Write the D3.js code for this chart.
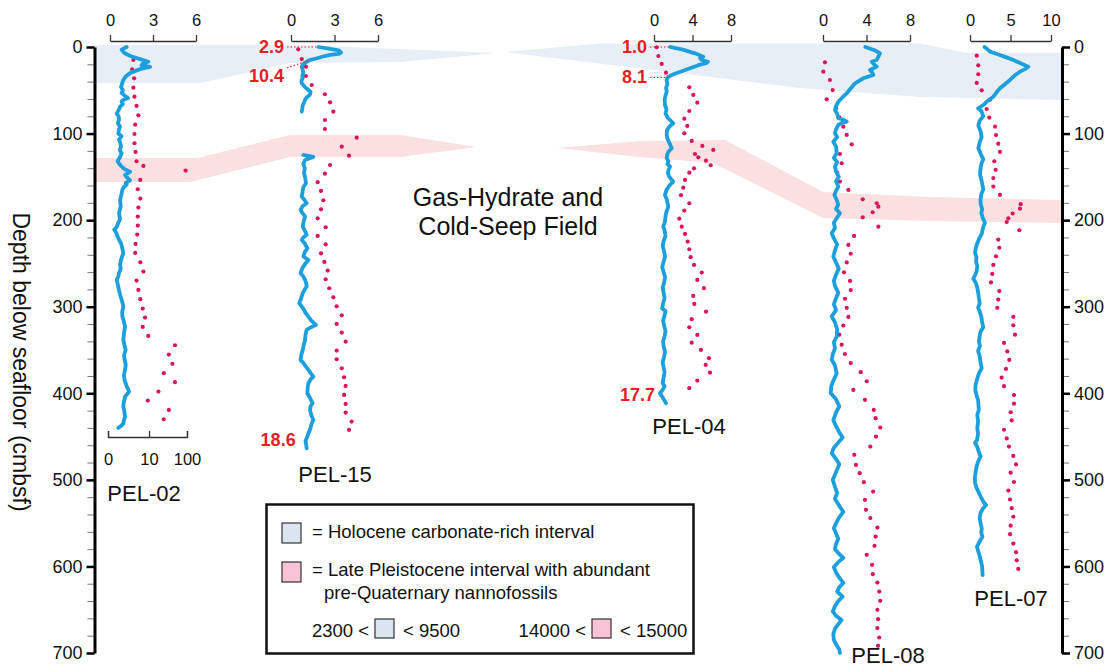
<!DOCTYPE html>
<html>
<head>
<meta charset="utf-8">
<script src="https://cdn.jsdelivr.net/npm/d3@7"></script>
<style>
  body { margin: 0; background: #fff; }
  svg { font-family: "Liberation Sans", Arial, Helvetica, sans-serif; }
</style>
</head>
<body>
<svg id="chart" width="1108" height="667"></svg>
<script>
// ---- data ----
var cores = ["PEL-02", "PEL-15", "PEL-04", "PEL-08", "PEL-07"];
var coreTicks = [[0, 3, 6], [0, 3, 6], [0, 4, 8], [0, 4, 8], [0, 5, 10]];
var pel02DotTicks = [0, 10, 100];
var depthTicks = [0, 100, 200, 300, 400, 500, 600, 700];

// [depth, value] for the blue curves
var pel02Curve = [[0,1.16],[3,0.81],[7,1.0],[11,1.51],[14,2.1],[17,2.67],[19,2.3],[21,2.2],[23,2.8],[25,2.2],[27,1.86],[30,1.4],[34,1.1],[38,0.93],[42,0.85],[46,0.77],[50,0.9],[53,0.81],[56,1.0],[59,1.26],[61,0.95],[63,0.81],[66,0.9],[69,0.7],[73,0.6],[77,0.47],[80,0.6],[84,0.63],[88,0.55],[92,0.7],[96,0.62],[100,0.58],[103,0.81],[107,0.63],[111,0.72],[115,0.77],[119,0.68],[123,0.81],[127,0.7],[132,0.53],[135,0.65],[138,0.81],[141,1.0],[144,1.4],[148,1.05],[151,1.2],[154,1.4],[157,1.1],[159,1.16],[162,0.95],[165,0.86],[170,0.8],[177,0.7],[184,0.75],[192,0.63],[199,0.7],[204,0.55],[208,0.47],[211,0.3],[215,0.45],[219,0.53],[223,0.65],[227,0.77],[232,0.85],[238,0.93],[244,0.8],[251,0.7],[256,0.75],[261,0.63],[265,0.58],[269,0.47],[275,0.55],[281,0.63],[287,0.72],[292,0.81],[296,0.88],[300,0.93],[306,0.85],[311,0.86],[317,0.97],[323,1.05],[330,0.98],[338,0.93],[344,1.0],[350,1.09],[356,0.98],[361,1.02],[367,1.1],[373,1.05],[379,0.97],[385,1.02],[391,1.15],[398,1.33],[401,1.2],[404,1.05],[410,0.97],[415,0.93],[421,1.0],[427,1.05],[431,0.98],[435,0.93],[438,0.75],[440,0.58]];
var pel15Curve = [[0,1.9],[2,2.6],[4,3.3],[6.5,3.45],[8,3.3],[9,2.7],[11,2.2],[13,1.8],[15,1.3],[17,1.08],[20,0.85],[22.7,0.74],[26,0.8],[30,0.85],[33,0.78],[36,0.8],[39,0.72],[42,0.74],[46,0.95],[49.7,1.2],[52,1.35],[55,1.31],[58,1.1],[61,0.97],[64,0.9],[68,0.8],[71,0.78],[74.7,0.74],[100,null],[124.7,0.85],[127,1.54],[130.5,0.97],[135,0.85],[140,0.95],[145.8,0.9],[151,0.98],[157.4,1.03],[162,0.85],[167,0.8],[172.8,0.74],[176,0.9],[180.5,1.08],[184,0.8],[188.2,0.66],[192,0.8],[195.9,0.97],[201,0.88],[207.5,0.81],[212,0.95],[217,1.08],[220,0.85],[222.8,0.74],[227,0.95],[232.5,1.13],[237,0.95],[242,0.85],[245.9,1.2],[250,1.0],[255,0.8],[261.3,0.66],[265,0.85],[269,0.97],[273,1.05],[276.7,1.08],[280,0.95],[284.4,0.81],[290,0.7],[296,0.57],[300,0.75],[303.7,0.9],[307,1.0],[311.4,1.2],[316,1.4],[321,1.72],[324,1.35],[326.8,1.08],[332,1.0],[338.4,0.97],[344,0.88],[349.9,0.81],[355,0.72],[361.4,0.66],[365,0.85],[369.1,1.03],[373,1.2],[376.8,1.36],[380.7,1.54],[384,1.35],[388.4,1.2],[394,1.15],[399.9,1.13],[405,1.3],[411.5,1.49],[415,1.35],[419.2,1.31],[425,1.4],[430.7,1.54],[436,1.4],[442.3,1.31],[446,1.2],[450,1.13],[455,1.0],[460,1.05],[463.5,1.08]];
var pel04Curve = [[0,1.7],[3,3.0],[7.3,4.26],[11.2,5.12],[13,4.8],[15,4.95],[17,5.6],[18.8,5.4],[21,4.6],[24.6,3.74],[28,2.9],[31.5,2.0],[34.3,1.49],[38,1.3],[43,1.4],[47,1.25],[51.6,1.32],[56,1.2],[61,1.1],[67,1.14],[72,1.3],[77,1.2],[82,1.45],[88.1,2.0],[92,1.6],[96,1.35],[101.6,1.32],[106,1.4],[111,1.6],[117,1.84],[121,1.5],[125,1.35],[128.5,1.32],[132,1.5],[135,1.4],[138.2,1.66],[142,1.5],[146,1.45],[150,1.6],[153,1.8],[155.5,2.0],[160,1.6],[165,1.3],[170.9,1.14],[175,1.3],[180,1.4],[184.4,1.49],[190,1.3],[195,1.2],[201.7,1.14],[207,0.97],[212,1.1],[218,1.2],[224,1.0],[230,0.9],[236,1.05],[242,1.15],[248,1.0],[254,0.85],[260,1.0],[266,1.15],[272,1.05],[278,0.9],[284,1.0],[290,1.1],[296,0.95],[302,0.85],[305,1.2],[310,1.1],[316,0.95],[322,1.05],[328,1.2],[334,1.1],[340,0.95],[346,1.0],[352,1.15],[358,1.05],[364,0.9],[370,1.0],[376,1.1],[382,1.0],[388,0.9],[392,1.1],[396,0.9],[400,0.62],[405,0.9],[411.4,1.25]];
var pel08Curve = [[0,3.9],[4,4.8],[7.3,5.24],[11,5.1],[15,4.94],[17,4.48],[20,4.7],[22.7,4.94],[26.6,4.32],[29,4.5],[32.3,4.63],[36.1,3.71],[41.9,2.94],[47,2.6],[53.5,2.18],[58,1.8],[63.2,1.41],[68,1.2],[72.7,1.1],[77,1.3],[82.3,1.41],[84,1.9],[86.3,2.18],[88,1.7],[90.1,1.41],[95,1.2],[99.7,1.1],[104,1.3],[109.4,0.95],[115,1.2],[122.7,1.26],[128,1.0],[133,1.3],[138.2,1.1],[144,1.2],[150,1.45],[155,1.2],[161.3,1.41],[166,1.2],[171,1.05],[176.7,1.26],[182,1.4],[187,1.2],[192,1.56],[197,1.3],[203,1.0],[209,1.1],[215.1,0.8],[221,1.0],[228,1.3],[235,1.1],[242,0.95],[249,1.2],[256,1.45],[263,1.2],[270,1.0],[276,1.1],[284,1.41],[290,1.2],[297,1.0],[304,1.2],[311,0.8],[318,1.1],[326,1.3],[334.5,1.26],[341,1.0],[348,1.1],[355,0.9],[361,0.8],[368,1.1],[377,1.26],[384,1.0],[392,0.75],[400,0.72],[407,1.2],[415,1.5],[422,1.2],[431,0.95],[438,1.2],[445,1.5],[451,1.8],[457,1.4],[463,1.0],[469,0.8],[476,1.2],[482,1.5],[488,1.3],[494,1.1],[500,0.9],[508,1.1],[515,1.3],[522,1.1],[530,1.5],[537,1.87],[543,1.5],[550,1.2],[556,1.0],[562,1.2],[568,1.4],[574,1.2],[580,1.1],[586,1.5],[590,1.87],[595,1.4],[601,1.0],[607,1.2],[613,1.5],[619,1.87],[624,1.5],[629,1.3],[635,1.8],[640,1.4],[646,1.1],[652,0.9],[657,1.2],[662,1.7],[667,1.4],[672,1.1],[678,0.95],[685,1.0],[690,1.2],[696,1.5],[700,1.56]];
var pel07Curve = [[0,1.8],[3,2.2],[5.4,2.47],[9.2,3.7],[12,4.5],[15,5.35],[19,6.3],[22.7,7.2],[25,6.9],[28.5,6.17],[33,5.5],[38.1,4.94],[43,4.3],[47.7,3.7],[52,3.3],[57.4,2.88],[62,2.2],[67,1.64],[70.8,1.0],[74,1.4],[80,1.64],[85,1.2],[91,1.03],[97,1.3],[104,1.44],[110,1.2],[116.9,1.03],[123,1.3],[129.8,1.64],[135,1.4],[141,1.3],[147,1.23],[153,1.4],[158,1.5],[164.3,1.64],[170,1.4],[176,1.3],[181.5,1.32],[187,1.5],[192,1.4],[198,1.6],[203,1.85],[209,1.6],[216,1.44],[222,1.1],[228,0.85],[233,0.7],[237.5,0.62],[243,0.8],[248,0.75],[253,0.9],[259,0.82],[264,0.6],[267.6,0.41],[272,0.7],[278,0.9],[284.9,1.03],[290,1.1],[296,1.2],[301,1.0],[306.4,1.23],[312,1.4],[318,1.5],[323.7,1.64],[329,1.3],[334,1.2],[340,1.1],[345.2,1.23],[351,1.0],[357,1.2],[364,1.3],[371.1,1.44],[377,1.1],[383,0.9],[390,0.7],[396,0.65],[402,0.8],[408,1.0],[419,1.09],[425,0.9],[432,1.0],[440,0.9],[447,1.0],[454,0.86],[457,0.62],[462,0.9],[468,1.1],[473,1.31],[479,1.0],[485,0.8],[491,0.7],[497,0.6],[503,0.62],[509,0.8],[515,1.1],[521,1.4],[526,1.7],[529,1.98],[533,1.6],[538,1.31],[544,1.2],[550,1.3],[556,1.45],[561,1.4],[566,1.53],[571,1.2],[577,0.86],[582,1.0],[588,1.2],[594,1.35],[600,1.5],[607,1.53],[610,1.55]];

// [depth, value] for the pink dots (PEL-02 on its own 0-10-100 scale)
var pel02Dots = [[15,3.4],[25.8,3.1],[36.2,3.6],[47,3.4],[57.4,3.7],[68.1,4.3],[78.9,4.9],[89.7,3.9],[100.5,3.7],[111.2,3.7],[121.2,4.0],[132,4.3],[137.4,6.9],[142.8,92],[153.6,5.6],[164.3,4.7],[175.1,5.6],[185.5,4.9],[195.9,4.7],[206.3,4.7],[216.7,4.5],[227.5,4.0],[237.9,3.9],[248.7,5.6],[259.4,6.9],[269.8,4.3],[280.6,4.9],[291.3,5.6],[302.1,6.6],[312.5,7.7],[323.3,6.6],[333.7,9.5],[344.5,49],[355.3,34],[366,42],[376.8,25],[387.2,49],[398,18],[408.4,9.2],[419.2,34],[430,25]];
var pel15Dots = [[2.7,0.5],[13.9,0.74],[22.7,1.03],[33.5,1.03],[43.9,1.43],[54.6,2.34],[63.9,2.69],[74.7,2.92],[84.3,2.34],[94.7,2.34],[104.7,4.53],[115.1,3.5],[125.5,4.0],[136.3,2.69],[146.3,2.34],[156.2,1.84],[166.3,2.07],[177,2.23],[187.5,2.07],[197.9,1.84],[208.2,2.39],[218.2,1.84],[227.9,2.39],[238.3,2.07],[248.3,2.3],[258.3,2.53],[268.3,2.39],[278.7,2.64],[289.1,2.92],[299.5,3.15],[309.9,3.5],[319.9,3.15],[329.9,3.5],[340.3,3.77],[350.7,3.15],[360.7,3.15],[371.1,3.5],[381.5,3.66],[391.5,3.77],[401.9,3.66],[412.3,3.77],[422.3,3.77],[432.7,4.18],[442.3,4.0]];
var pel04Dots = [[0.3,0.28],[10.4,0.45],[19.6,0.8],[29.7,1.25],[46.5,3.67],[55.4,4.08],[64.3,4.5],[73.9,3.67],[82.8,3.15],[91.2,3.46],[99.7,3.15],[108.5,3.92],[114.3,5.02],[118.9,6.16],[123.6,4.26],[127.4,4.6],[131.3,5.4],[136.6,5.89],[140.1,4.16],[145.2,3.67],[153.6,3.22],[162.5,3.04],[171.2,2.81],[180.5,3.67],[189,3.15],[198.3,2.63],[207.5,2.88],[215.9,3.22],[224.8,3.5],[233.6,3.67],[242.8,3.81],[251.7,4.16],[260.6,4.96],[269,4.5],[278.6,5.19],[287.5,4.08],[296.8,4.19],[305.7,5.4],[314.4,3.92],[323.7,3.67],[332.6,4.5],[341.5,3.92],[349.9,4.88],[359.5,5.71],[367.2,5.37],[376.1,5.82],[385.3,4.5],[394.1,3.67]];
var pel08Dots = [[17.7,0.18],[28.5,0.03],[38.1,0.64],[49.7,0.89],[60.4,0.34],[70.8,1.2],[81.2,1.5],[92,1.87],[101.6,2.18],[112.4,2.64],[123.6,1.56],[134.3,1.72],[145.2,1.31],[155.5,1.56],[165.1,2.33],[175.9,3.65],[180.5,4.94],[184.4,5.09],[190.9,4.57],[196.7,3.65],[207.5,5.09],[218.2,2.85],[228.6,2.33],[238.8,2.55],[248.8,2.18],[260.3,1.93],[270.2,2.48],[280.8,2.55],[290.8,2.02],[301.3,2.18],[311.8,2.33],[321.8,1.87],[332.3,1.5],[343.8,1.72],[354.6,2.02],[365.1,2.55],[375.6,3.47],[386.1,4.02],[396.1,2.79],[407.6,3.86],[419.2,4.67],[428.8,4.84],[439.6,5.26],[450,4.87],[461.5,4.35],[471.1,2.88],[482.7,3.03],[492.3,3.37],[502.7,3.76],[513.5,4.61],[523.1,3.86],[534.6,3.95],[544.2,4.35],[555.1,5.0],[565.5,4.84],[576.2,4.74],[586.6,4.02],[598.2,4.51],[608.9,4.58],[618.6,5.0],[629,5.17],[639.7,5.26],[650.1,5.0],[660.9,5.07],[671.2,5.0],[682.1,5.17],[691.7,5.06]];
var pel07Dots = [[10,0.83],[21.2,1.02],[31.5,1.02],[41.5,0.83],[50.1,1.44],[60.9,2.47],[71.6,2.06],[81.5,2.38],[91.9,3.09],[101.7,3.21],[111.7,3.49],[121.2,3.7],[132,3.0],[141.9,3.17],[151.4,2.88],[161.2,2.88],[170.8,3.7],[181.5,6.26],[186.7,6.17],[192.3,5.27],[197.9,4.73],[202.2,4.53],[211.7,6.09],[222.4,3.49],[231.9,3.62],[241.8,3.21],[251.7,2.88],[262.1,2.75],[271.9,2.59],[281.9,3.62],[291.8,3.49],[301.3,3.37],[311.7,5.35],[321.5,5.35],[332.3,5.56],[341.8,4.2],[351.7,4.6],[361.5,4.85],[371.9,4.44],[381.9,3.91],[391.8,4.2],[402.1,5.43],[412,5.43],[421.9,5.02],[431.4,5.15],[442.1,4.2],[452.1,4.53],[461.5,4.81],[472.3,5.35],[482.2,5.68],[491.7,5.02],[502.5,5.43],[512.4,4.73],[522.7,4.94],[532.7,5.15],[542.6,5.35],[552.9,5.02],[562.8,4.94],[573.6,5.35],[583.5,5.68],[593,5.77],[602.9,5.96]];

// radiocarbon ages (ka) marked on the curves
var ageMarks = [
  { core: "PEL-15", depth: 0, age: "2.9", lead: true },
  { core: "PEL-15", depth: 15, age: "10.4", lead: true },
  { core: "PEL-04", depth: 0, age: "1.0", lead: true },
  { core: "PEL-04", depth: 35, age: "8.1", lead: true },
  { core: "PEL-04", depth: 411, age: "17.7", lead: false },
  { core: "PEL-15", depth: 463, age: "18.6", lead: false }
];

// correlated intervals: depths of the band edges at each station
var holoLeftTop = [-2.3, -2.3, 6.9];
var holoLeftBottom = [42, 42, 18.5, 17.3, 6.9];
var holoRightTop = [5.8, -4, -4, 6.9, 6.9];
var holoRightBottom = [5.8, 47.3, 57.7, 61.2];
var pleiLeftTop = [128.2, 128.2, 101.6, 101.6, 115.5];
var pleiLeftBottom = [155.9, 155.9, 127, 127, 115.5];
var pleiRightTop = [116.6, 108.5, 107.4, 167.4, 173.2, 176.7];
var pleiRightBottom = [116.6, 127, 133.9, 197.5, 200.9, 203.2];

// ---- layout ----
var svg = d3.select("svg#chart");
var blue = "#1c9fdc", dotColor = "#dc145a", ageColor = "#e41f26";
var curves = { "PEL-02": pel02Curve, "PEL-15": pel15Curve, "PEL-04": pel04Curve, "PEL-08": pel08Curve, "PEL-07": pel07Curve };
var dots = { "PEL-02": pel02Dots, "PEL-15": pel15Dots, "PEL-04": pel04Dots, "PEL-08": pel08Dots, "PEL-07": pel07Dots };
var colRange = { "PEL-02": [110, 196], "PEL-15": [291, 378], "PEL-04": [654, 731], "PEL-08": [823, 910], "PEL-07": [970, 1051] };
var labelPos = { "PEL-02": [144, 501], "PEL-15": [335, 482], "PEL-04": [689, 434], "PEL-08": [888, 663], "PEL-07": [1011, 606] };

var y = d3.scaleLinear().domain([0, 700]).range([47, 653]);
var x = {};
cores.forEach(function(c, i) {
  x[c] = d3.scaleLinear().domain([0, coreTicks[i][2]]).range(colRange[c]);
});
var xDots02 = d3.scaleSymlog().domain([0, 100]).range([108, 187]);

// bands
function band(topX, top, botX, bot) {
  var pts = top.map(function(d, i) { return [topX[i], y(d)]; });
  for (var i = bot.length - 1; i >= 0; i--) pts.push([botX[i], y(bot[i])]);
  return d3.line()(pts) + "Z";
}
var bands = svg.append("g").attr("class", "bands");
bands.append("path").attr("fill", "#e8eef6")
  .attr("d", band([94, 300, 497], holoLeftTop, [94, 200, 290, 400, 497], holoLeftBottom));
bands.append("path").attr("fill", "#e8eef6")
  .attr("d", band([505, 600, 920, 967, 1062], holoRightTop, [505, 800, 920, 1062], holoRightBottom));
bands.append("path").attr("fill", "#fbe0e2")
  .attr("d", band([94, 197, 290, 400, 477], pleiLeftTop, [94, 190, 290, 400, 477], pleiLeftBottom));
bands.append("path").attr("fill", "#fbe0e2")
  .attr("d", band([557, 640, 725, 823, 930, 1062], pleiRightTop, [557, 640, 713, 823, 930, 1062], pleiRightBottom));

// depth axes
var minor = d3.range(0, 701, 20).filter(function(d) { return d % 100 !== 0; });
function depthAxis(axisFn, xPos) {
  var g = svg.append("g").attr("transform", "translate(" + xPos + ",0)");
  g.append("g")
    .call(axisFn(y).tickValues(minor).tickSize(7).tickSizeOuter(0).tickFormat(""))
    .call(function(a) { a.select(".domain").remove(); })
    .selectAll("line").attr("stroke", "#777").attr("stroke-width", 1);
  var major = g.append("g")
    .call(axisFn(y).tickValues(depthTicks).tickSize(8).tickSizeOuter(0).tickPadding(4));
  major.select(".domain").attr("stroke", "#000").attr("stroke-width", 3);
  major.selectAll(".tick line").attr("stroke", "#000").attr("stroke-width", 2.5);
  major.selectAll("text").attr("font-size", 18).attr("fill", "#111").attr("font-family", null);
}
depthAxis(d3.axisLeft, 94.5);
depthAxis(d3.axisRight, 1062);

// top scale of each core
cores.forEach(function(c, i) {
  var a = svg.append("g")
    .attr("transform", "translate(0,41)")
    .call(d3.axisTop(x[c]).tickValues(coreTicks[i]).tickFormat(d3.format("d"))
      .tickSize(6).tickSizeOuter(0).tickPadding(9));
  a.selectAll("path,line").attr("stroke", "#333").attr("stroke-width", 1.3);
  a.selectAll("text").attr("font-size", 16.5).attr("fill", "#111").attr("font-family", null);
});

// PEL-02 dot scale at the bottom
var b02 = svg.append("g")
  .attr("transform", "translate(0,437)")
  .call(d3.axisBottom(xDots02).tickValues(pel02DotTicks).tickFormat(d3.format("d"))
    .tickSize(-6).tickSizeOuter(-6).tickPadding(16));
b02.selectAll("path,line").attr("stroke", "#333").attr("stroke-width", 1.3);
b02.selectAll("text").attr("font-size", 16.5).attr("fill", "#111").attr("font-family", null);

// dots then curves
cores.forEach(function(c) {
  var xs = c === "PEL-02" ? xDots02 : x[c];
  svg.append("g")
    .selectAll("circle")
    .data(dots[c])
    .enter()
    .append("circle")
    .attr("cx", function(d) { return xs(d[1]); })
    .attr("cy", function(d) { return y(d[0]); })
    .attr("r", 2.1)
    .attr("fill", dotColor);
});
cores.forEach(function(c) {
  var line = d3.line()
    .defined(function(d) { return d[1] !== null; })
    .x(function(d) { return x[c](d[1]); })
    .y(function(d) { return y(d[0]); });
  svg.append("path")
    .attr("d", line(curves[c]))
    .attr("fill", "none")
    .attr("stroke", blue)
    .attr("stroke-width", 3.8)
    .attr("stroke-linejoin", "round")
    .attr("stroke-linecap", "round");
});

// age labels
function curveX(c, depth) {
  var best = null;
  curves[c].forEach(function(p) {
    if (p[1] !== null && (best === null || Math.abs(p[0] - depth) < Math.abs(best[0] - depth))) best = p;
  });
  return x[c](best[1]);
}
var ageDrop = { "10.4": 16 };
ageMarks.forEach(function(m) {
  var py = y(m.depth), cx = curveX(m.core, m.depth);
  var t = svg.append("text")
    .attr("text-anchor", "end")
    .attr("font-size", 18)
    .attr("font-weight", "bold")
    .attr("fill", ageColor)
    .text(m.age);
  if (m.lead) {
    var drop = ageDrop[m.age] || 0;
    var x0 = x[m.core](0);
    t.attr("x", x0 - 7).attr("y", py + 6 + drop);
    svg.append("line")
      .attr("x1", x0 - 4).attr("y1", py + drop / 2)
      .attr("x2", cx).attr("y2", py)
      .attr("stroke", ageColor)
      .attr("stroke-width", 1.2)
      .attr("stroke-dasharray", "1.5,2");
  } else {
    t.attr("x", cx - 11).attr("y", py - 2);
  }
});

// core names
cores.forEach(function(c) {
  svg.append("text")
    .attr("x", labelPos[c][0])
    .attr("y", labelPos[c][1])
    .attr("text-anchor", "middle")
    .attr("font-size", 22)
    .attr("fill", "#111")
    .text(c);
});

// field annotation
svg.append("text").attr("x", 508).attr("y", 206).attr("text-anchor", "middle")
  .attr("font-size", 25).attr("fill", "#111").text("Gas-Hydrate and");
svg.append("text").attr("x", 508).attr("y", 235).attr("text-anchor", "middle")
  .attr("font-size", 25).attr("fill", "#111").text("Cold-Seep Field");

// y title
svg.append("text")
  .attr("transform", "translate(21,362) rotate(90)")
  .attr("text-anchor", "middle")
  .attr("dominant-baseline", "central")
  .attr("font-size", 23)
  .attr("fill", "#111")
  .text("Depth below seafloor (cmbsf)");

// legend
var lg = svg.append("g").attr("font-size", 18.5).attr("fill", "#111");
lg.append("rect").attr("x", 266.5).attr("y", 504.5).attr("width", 427).attr("height", 149)
  .attr("fill", "#fff").attr("stroke", "#111").attr("stroke-width", 2.5);
lg.append("rect").attr("x", 282).attr("y", 523).attr("width", 19).attr("height", 20)
  .attr("fill", "#dbe4f0").attr("stroke", "#333").attr("stroke-width", 1.2);
lg.append("text").attr("x", 312).attr("y", 538).text("= Holocene carbonate-rich interval");
lg.append("rect").attr("x", 282).attr("y", 562).attr("width", 19).attr("height", 20)
  .attr("fill", "#f8c3d6").attr("stroke", "#333").attr("stroke-width", 1.2);
lg.append("text").attr("x", 312).attr("y", 576).text("= Late Pleistocene interval with abundant");
lg.append("text").attr("x", 324).attr("y", 599).text("pre-Quaternary nannofossils");
lg.append("text").attr("x", 369).attr("y", 637).attr("text-anchor", "end").text("2300 <");
lg.append("rect").attr("x", 375).attr("y", 619).attr("width", 19).attr("height", 19)
  .attr("fill", "#dbe4f0").attr("stroke", "#333").attr("stroke-width", 1.2);
lg.append("text").attr("x", 403).attr("y", 637).text("< 9500");
lg.append("text").attr("x", 586).attr("y", 637).attr("text-anchor", "end").text("14000 <");
lg.append("rect").attr("x", 592).attr("y", 619).attr("width", 19).attr("height", 19)
  .attr("fill", "#f8c3d6").attr("stroke", "#333").attr("stroke-width", 1.2);
lg.append("text").attr("x", 620).attr("y", 637).text("< 15000");
</script>
</body>
</html>
